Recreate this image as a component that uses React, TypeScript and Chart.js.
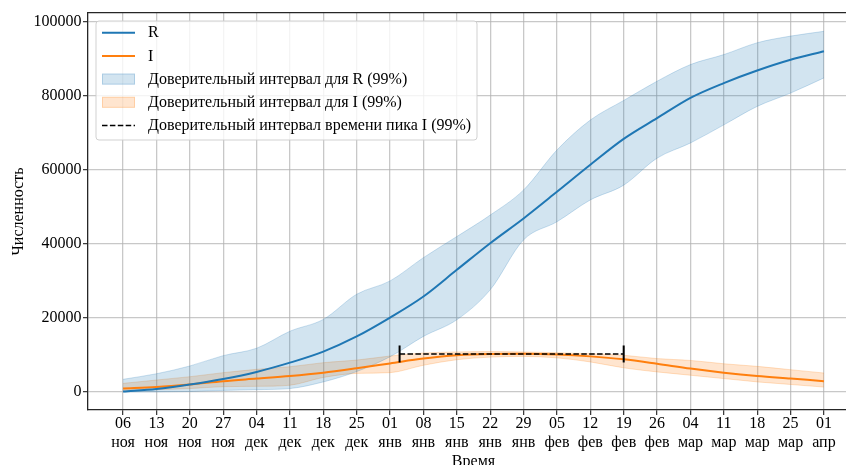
import React, { useEffect, useRef } from 'react';
import { Chart, registerables } from 'chart.js';

Chart.register(...registerables);

// ---- data ----
const dates = [
  '2019-11-06', '2019-11-13', '2019-11-20', '2019-11-27',
  '2019-12-04', '2019-12-11', '2019-12-18', '2019-12-25',
  '2020-01-01', '2020-01-08', '2020-01-15', '2020-01-22', '2020-01-29',
  '2020-02-05', '2020-02-12', '2020-02-19', '2020-02-26',
  '2020-03-04', '2020-03-11', '2020-03-18', '2020-03-25', '2020-04-01',
];
const tickDayLabels = ['06', '13', '20', '27', '04', '11', '18', '25', '01', '08', '15', '22', '29', '05', '12', '19', '26', '04', '11', '18', '25', '01'];
const tickMonthLabels = ['ноя', 'ноя', 'ноя', 'ноя', 'дек', 'дек', 'дек', 'дек', 'янв', 'янв', 'янв', 'янв', 'янв', 'фев', 'фев', 'фев', 'фев', 'мар', 'мар', 'мар', 'мар', 'апр'];

const rMean = [100, 800, 2000, 3500, 5400, 7900, 10900, 15000, 20100, 25800, 33000, 40200, 46900, 54100, 61400, 68400, 74000, 79500, 83500, 86900, 89800, 92100];
const rUpper = [3400, 4900, 7000, 9800, 11800, 16400, 19600, 26400, 30000, 36300, 42000, 47800, 54600, 65400, 73500, 78800, 84000, 88500, 91200, 94400, 96200, 97500];
const rLower = [0, 0, 100, 400, 600, 900, 2700, 5500, 9500, 15000, 19500, 27600, 41100, 46000, 51900, 55900, 63200, 67300, 72200, 77200, 80800, 84900];

const iMean = [900, 1300, 2000, 2900, 3600, 4300, 5200, 6400, 7700, 9000, 9900, 10250, 10300, 10100, 9600, 8800, 7600, 6300, 5200, 4300, 3600, 2900];
const iUpper = [2300, 3200, 4100, 5200, 6100, 6800, 7900, 8600, 9700, 10500, 10800, 10900, 10800, 10600, 10300, 9900, 9000, 8500, 7600, 6900, 6000, 5100];
const iLower = [400, 600, 900, 1400, 1500, 1800, 3900, 5000, 5200, 7200, 8700, 9400, 9600, 9200, 8100, 6500, 5400, 4500, 3600, 2700, 2000, 1300];

const peakDates = ['2020-01-03', '2020-02-19'];
const peakLevel = 10250;

const yTicks = [0, 20000, 40000, 60000, 80000, 100000];
const yMin = -4900;
const yMax = 102450;

const legendLabels = [
  'R',
  'I',
  'Доверительный интервал для R (99%)',
  'Доверительный интервал для I (99%)',
  'Доверительный интервал времени пика I (99%)',
];

const BLUE = '#1f77b4';
const ORANGE = '#ff7f0e';
const BLUE_FILL = 'rgba(31,119,180,0.2)';
const ORANGE_FILL = 'rgba(255,127,14,0.2)';
const FONT = '"Liberation Serif", "Times New Roman", serif';

const DAY = 86400000;
const start = Date.parse(dates[0]);
const dayOf = (d: string) => (Date.parse(d) - start) / DAY;

const legendPlugin = {
  id: 'mplLegend',
  afterDraw(chart: any) {
    const ctx = chart.ctx as CanvasRenderingContext2D;
    const ca = chart.chartArea;
    const bx = ca.left + 8;
    const by = ca.top + 8;
    const bw = 381;
    const bh = 119;
    ctx.save();
    ctx.beginPath();
    const r = 3;
    ctx.moveTo(bx + r, by);
    ctx.lineTo(bx + bw - r, by);
    ctx.quadraticCurveTo(bx + bw, by, bx + bw, by + r);
    ctx.lineTo(bx + bw, by + bh - r);
    ctx.quadraticCurveTo(bx + bw, by + bh, bx + bw - r, by + bh);
    ctx.lineTo(bx + r, by + bh);
    ctx.quadraticCurveTo(bx, by + bh, bx, by + bh - r);
    ctx.lineTo(bx, by + r);
    ctx.quadraticCurveTo(bx, by, bx + r, by);
    ctx.closePath();
    ctx.fillStyle = 'rgba(255,255,255,0.8)';
    ctx.fill();
    ctx.strokeStyle = 'rgba(204,204,204,0.9)';
    ctx.lineWidth = 1;
    ctx.stroke();

    const kinds = ['line', 'line', 'patch', 'patch', 'dash'];
    const dsIndex = [0, 1, 2, 4, 6];
    ctx.font = '16px ' + FONT;
    ctx.textBaseline = 'middle';
    ctx.textAlign = 'left';
    kinds.forEach((k, i) => {
      const ds = chart.data.datasets[dsIndex[i]];
      const cy = by + 11.7 + i * 23.2;
      const hx0 = bx + 6;
      const hx1 = bx + 39;
      if (k === 'line' || k === 'dash') {
        ctx.beginPath();
        ctx.setLineDash(k === 'dash' ? [5.5, 2.4] : []);
        ctx.strokeStyle = ds.borderColor;
        ctx.lineWidth = k === 'dash' ? 1.6 : 2;
        ctx.moveTo(hx0, cy);
        ctx.lineTo(hx1, cy);
        ctx.stroke();
        ctx.setLineDash([]);
      } else {
        ctx.fillStyle = ds.backgroundColor;
        ctx.fillRect(hx0, cy - 5.5, hx1 - hx0, 11);
        ctx.strokeStyle = ds.borderColor;
        ctx.lineWidth = 1;
        ctx.strokeRect(hx0 + 0.5, cy - 5, hx1 - hx0 - 1, 10);
      }
      ctx.fillStyle = '#000';
      ctx.fillText(ds.label, bx + 52, cy + 0.5);
    });
    ctx.restore();
  },
};

export default function App() {
  const ref = useRef<HTMLCanvasElement>(null);

  useEffect(() => {
    Chart.defaults.font.family = FONT;
    Chart.defaults.font.size = 16;
    Chart.defaults.color = '#000';

    const xs = dates.map(dayOf);
    const span = xs[xs.length - 1] - xs[0];
    const xMin = xs[0] - span * 0.05;
    const xMax = xs[xs.length - 1] + span * 0.05;
    const pts = (arr: number[]) => arr.map((y, i) => ({ x: xs[i], y }));

    const gridColor = 'rgba(176,176,176,0.7)';
    const spine = '#262626';

    const chart = new Chart(ref.current as HTMLCanvasElement, {
      type: 'line',
      data: {
        datasets: [
          {
            label: legendLabels[0], data: pts(rMean), borderColor: BLUE, borderWidth: 2,
            pointRadius: 0, cubicInterpolationMode: 'monotone', fill: false, order: 2,
          },
          {
            label: legendLabels[1], data: pts(iMean), borderColor: ORANGE, borderWidth: 2,
            pointRadius: 0, cubicInterpolationMode: 'monotone', fill: false, order: 2,
          },
          {
            label: legendLabels[2], data: pts(rUpper), borderColor: 'rgba(31,119,180,0.22)', backgroundColor: BLUE_FILL,
            borderWidth: 1, pointRadius: 0, cubicInterpolationMode: 'monotone', fill: '+1', order: 3,
          },
          {
            label: 'R lower', data: pts(rLower), borderColor: 'rgba(31,119,180,0.22)', backgroundColor: BLUE_FILL,
            borderWidth: 1, pointRadius: 0, cubicInterpolationMode: 'monotone', fill: false, order: 3,
          },
          {
            label: legendLabels[3], data: pts(iUpper), borderColor: 'rgba(255,127,14,0.22)', backgroundColor: ORANGE_FILL,
            borderWidth: 1, pointRadius: 0, cubicInterpolationMode: 'monotone', fill: '+1', order: 3,
          },
          {
            label: 'I lower', data: pts(iLower), borderColor: 'rgba(255,127,14,0.22)', backgroundColor: ORANGE_FILL,
            borderWidth: 1, pointRadius: 0, cubicInterpolationMode: 'monotone', fill: false, order: 3,
          },
          {
            label: legendLabels[4],
            data: peakDates.map((d) => ({ x: dayOf(d), y: peakLevel })),
            borderColor: '#000', borderWidth: 1.6, borderDash: [5.5, 2.4],
            pointStyle: 'line', pointRotation: 90, pointRadius: 8.5, pointBorderWidth: 2,
            pointBorderColor: '#000', pointBackgroundColor: '#000', fill: false, order: 1,
          },
        ] as any,
      },
      options: {
        animation: false,
        responsive: true,
        maintainAspectRatio: false,
        events: [],
        layout: { padding: { top: 13, right: 21, left: 0, bottom: 0 } },
        plugins: {
          legend: { display: false },
          tooltip: { enabled: false },
        },
        scales: {
          x: {
            type: 'linear',
            position: 'bottom',
            min: xMin,
            max: xMax,
            afterBuildTicks: (s: any) => { s.ticks = xs.map((v) => ({ value: v })); },
            afterFit: (s: any) => { s.height = 70; },
            ticks: {
              autoSkip: false, maxRotation: 0, minRotation: 0, padding: 0,
              font: { size: 16, lineHeight: 1.15 },
              callback: (_v: any, i: number) => [tickDayLabels[i], tickMonthLabels[i]],
            },
            grid: { color: gridColor, lineWidth: 1.3, tickColor: '#333', tickLength: 5, tickWidth: 1.2 },
            border: { display: true, color: spine, width: 1.3 },
            title: { display: true, text: 'Время', font: { size: 16 }, padding: { top: 0, bottom: 9 } },
          },
          x2: {
            type: 'linear',
            position: 'top',
            min: xMin,
            max: xMax,
            afterFit: (s: any) => { s.height = 0; },
            ticks: { display: false },
            grid: { display: true, drawOnChartArea: false, drawTicks: false },
            border: { display: true, color: spine, width: 1.3 },
          },
          y: {
            type: 'linear',
            min: yMin,
            max: yMax,
            afterBuildTicks: (s: any) => { s.ticks = yTicks.map((v) => ({ value: v })); },
            afterFit: (s: any) => { s.width = 88; },
            ticks: { padding: 1.5, font: { size: 16 }, callback: (v: any) => String(v) },
            grid: { color: gridColor, lineWidth: 1.3, tickColor: '#333', tickLength: 5, tickWidth: 1.2 },
            border: { display: true, color: spine, width: 1.3 },
            title: { display: true, text: 'Численность', font: { size: 16 }, padding: { top: 9, bottom: 0 } },
          },
        },
      } as any,
      plugins: [legendPlugin],
    });
    return () => chart.destroy();
  }, []);

  return (
    <div style={{ position: 'fixed', left: 0, top: 0, width: 846, height: 465, overflow: 'hidden', background: '#fff' }}>
      <div style={{ position: 'relative', width: 880, height: 480 }}>
        <canvas ref={ref} />
      </div>
    </div>
  );
}
